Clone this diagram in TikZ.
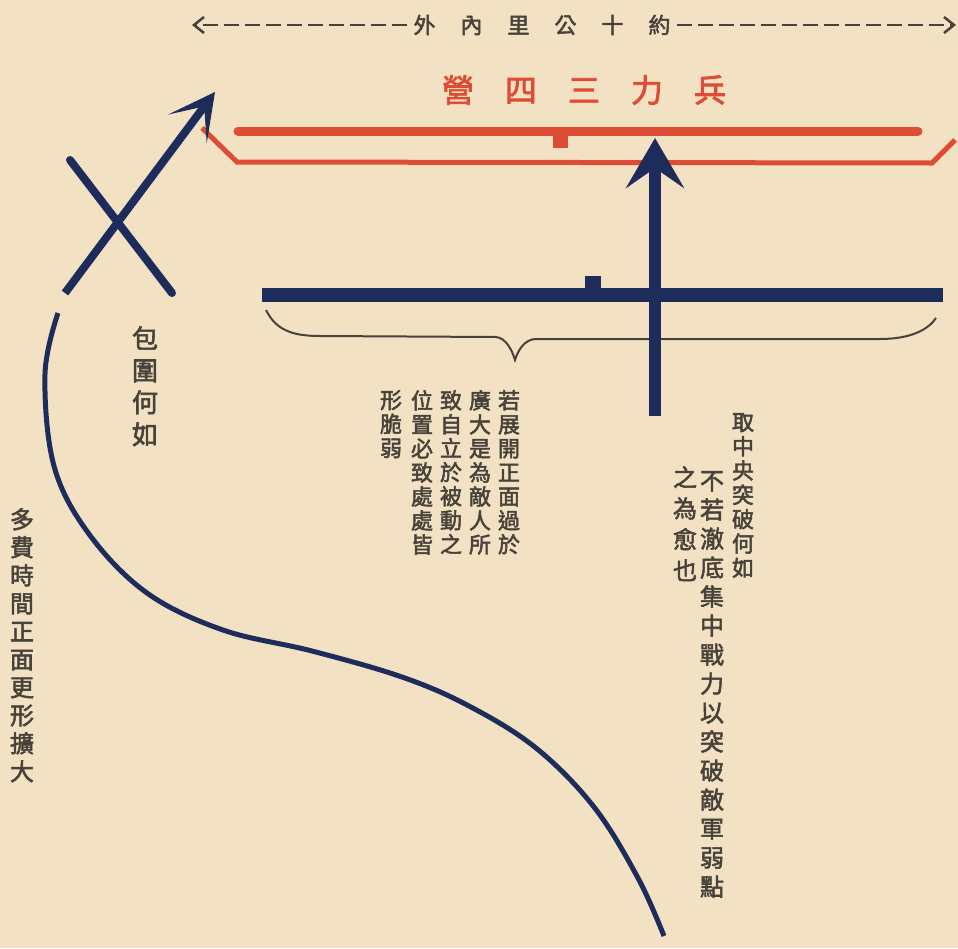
\documentclass[tikz,border=0pt]{standalone}
\usepackage{fontspec}
\newfontfamily\cjk[FakeBold=2.2]{Noto Sans CJK TC}
\newfontfamily\cjkheavy[FakeBold=2.4]{Noto Sans CJK TC}
\usetikzlibrary{arrows.meta}
\definecolor{paper}{RGB}{243,225,196}
\definecolor{navy}{RGB}{30,44,92}
\definecolor{vermilion}{RGB}{221,76,52}
\definecolor{ink}{RGB}{72,66,58}
\newcommand{\cgap}[1]{\hspace{#1pt}}

\begin{document}
\begin{tikzpicture}[x=1pt, y=-1pt,
  vcol/.style={anchor=north, align=center, inner sep=0pt, text=ink},
  distline/.style={ink, line width=2.5pt, dash pattern=on 15pt off 6pt, -{Straight Barb[length=10pt, width=16pt]}},
  bluefront/.style={navy, line width=14pt},
  redfront/.style={vermilion, line width=9pt, line cap=round}]
\useasboundingbox (0,0) rectangle (958,948);
\fill[paper] (0,0) rectangle (958,948);

% Distance bar
\node (dist) at (542,25) [inner sep=6pt, text=ink, font=\cjk\fontsize{22}{22}\selectfont] {外\cgap{25}內\cgap{25}里\cgap{25}公\cgap{25}十\cgap{25}約};
\coordinate (dl) at (192,25);
\coordinate (dr) at (956,25);
\draw[distline] (dist.west) -- (dl);
\draw[distline] (dist.east) -- (dr);

% Enemy side (red)
\node (force) at (584,90) [inner sep=0pt, text=vermilion, font=\cjkheavy\fontsize{32}{32}\selectfont] {營\cgap{31}四\cgap{31}三\cgap{31}力\cgap{31}兵};
\draw[redfront] (238,131) -- (918,131);
\fill[vermilion] (553,131) rectangle (568,148);
\draw[vermilion, line width=5pt] (202,128) -- (237,162) -- (932,163) -- (955,140);

% Own side (blue)
\draw[bluefront] (262,295) -- (943,295);
\fill[navy] (585,276) rectangle (601,292);
\draw[ink, line width=2pt] (266,310) .. controls (276,330) and (292,336) .. (320,336) -- (496,337) .. controls (506,338) and (512,350) .. (515,360) .. controls (518,350) and (525,339) .. (536,339) -- (880,339) .. controls (910,339) and (928,330) .. (936,318);
\coordinate (ctail) at (655,416);
\coordinate (chead) at (655,138);
\draw[navy, line width=12pt, -{Stealth[length=50pt, width=58pt, inset=20pt]}] (ctail) -- (chead);

% Envelopment
\coordinate (etail) at (65,293);
\coordinate (ehead) at (215,92);
\draw[navy, line width=8pt, line cap=round] (70,160) -- (172,293);
\draw[navy, line width=8pt, -{Stealth[length=46pt, width=48pt, inset=28pt]}] (etail) -- (ehead);
\draw[navy, line width=5pt] plot[smooth, tension=0.6] coordinates {(58,313) (45,374) (54,466) (89,534) (147,593) (223,630) (312,651) (402,677) (469,706) (536,748) (594,807) (638,878) (664,936)};

% Notes
\node (encq) at (145,326) [vcol, font=\cjk\fontsize{26}{32}\selectfont] {包\\圍\\何\\如};
\node (delay) at (22,508) [vcol, font=\cjk\fontsize{24}{28}\selectfont] {多\\費\\時\\間\\正\\面\\更\\形\\擴\\大};
\node (wide1) at (509,390) [vcol, font=\cjk\fontsize{22}{24}\selectfont] {若\\展\\開\\正\\面\\過\\於};
\node (wide2) at (480,390) [vcol, font=\cjk\fontsize{22}{24}\selectfont] {廣\\大\\是\\為\\敵\\人\\所};
\node (wide3) at (451,390) [vcol, font=\cjk\fontsize{22}{24}\selectfont] {致\\自\\立\\於\\被\\動\\之};
\node (wide4) at (422,390) [vcol, font=\cjk\fontsize{22}{24}\selectfont] {位\\置\\必\\致\\處\\處\\皆};
\node (wide5) at (391,390) [vcol, font=\cjk\fontsize{22}{24}\selectfont] {形\\脆\\弱};
\node (cent1) at (743,413) [vcol, font=\cjk\fontsize{22}{24.3}\selectfont] {取\\中\\央\\突\\破\\何\\如};
\node (cent2) at (712,471) [vcol, font=\cjk\fontsize{24}{29}\selectfont] {不\\若\\澈\\底\\集\\中\\戰\\力\\以\\突\\破\\敵\\軍\\弱\\點};
\node (cent3) at (685,466) [vcol, font=\cjk\fontsize{24}{31}\selectfont] {之\\為\\愈\\也};
\end{tikzpicture}
\end{document}
